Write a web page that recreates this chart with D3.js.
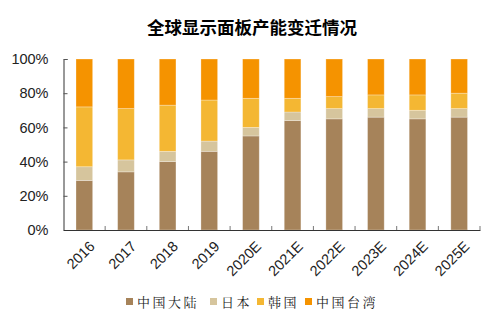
<!DOCTYPE html>
<html><head><meta charset="utf-8">
<script src="https://cdn.jsdelivr.net/npm/d3@7"></script>
<style>body{margin:0;background:#fff;}svg{display:block;}</style>
</head><body>
<script>
const categories = ["2016","2017","2018","2019","2020E","2021E","2022E","2023E","2024E","2025E"];
const seriesNames = ["中国大陆","日本","韩国","中国台湾"];
const china  = [29,34,40,46,55,64,65,66,65,66];
const japan  = [8,7,6,6,5,5,6,5,5,5];
const korea  = [35,30,27,24,17,8,7,8,9,9];
const taiwan = [28,29,27,24,23,23,22,21,21,20];
const yTicks = [0,20,40,60,80,100];
const title = "全球显示面板产能变迁情况";
const colors = ["#A6835A","#D6C59D","#F4B733","#F59300"];

const W=497,H=331;
const m={left:63.5,right:17,top:59,bottom:101};
const svg=d3.select("body").append("svg").attr("width",W).attr("height",H);
const x=d3.scaleBand().domain(categories).range([m.left,W-m.right]).paddingInner(0.6).paddingOuter(0.3);
const y=d3.scaleLinear().domain([0,100]).range([H-m.bottom,m.top]);

const rows=categories.map((c,i)=>({cat:c,"中国大陆":china[i],"日本":japan[i],"韩国":korea[i],"中国台湾":taiwan[i]}));
const stack=d3.stack().keys(seriesNames)(rows);

svg.append("g").selectAll("g").data(stack).join("g").attr("fill",(d,i)=>colors[i])
 .selectAll("rect").data(d=>d).join("rect")
 .attr("x",d=>x(d.data.cat)).attr("width",x.bandwidth())
 .attr("y",d=>y(d[1])).attr("height",d=>y(d[0])-y(d[1]))
 .attr("stroke","rgba(255,255,255,0.35)").attr("stroke-width",0.8);

// y axis
const ya=svg.append("g").attr("transform",`translate(${m.left},0)`)
 .call(d3.axisLeft(y).tickValues(yTicks).tickFormat(d=>d+"%").tickSizeInner(-4).tickSizeOuter(-4).tickPadding(15));
ya.select(".domain").attr("stroke","#333");
ya.selectAll(".tick line").attr("stroke","#555");
ya.selectAll("text").attr("font-family","Arial, 'Liberation Sans', sans-serif").attr("font-size",14.5).attr("fill","#222");

// x axis
const step=x.step();
const xa=svg.append("g").attr("transform",`translate(0,${H-m.bottom})`)
 .call(d3.axisBottom(x).tickSize(0).tickPadding(0));
xa.select(".domain").attr("stroke","#333").attr("stroke-width",1.2);
xa.selectAll(".tick text").remove();
categories.forEach((c,i)=>{
  const bx=x(c)+x.bandwidth()/2+step/2;
  xa.append("line").attr("x1",bx).attr("x2",bx).attr("y1",0).attr("y2",-4).attr("stroke","#777");
  xa.append("text").attr("transform",`translate(${x(c)+x.bandwidth()/2+4},10) rotate(-45)`)
   .attr("text-anchor","end").attr("dy","0.71em")
   .attr("font-family","Arial, 'Liberation Sans', sans-serif").attr("font-size",14.5).attr("fill","#222").text(c);
});

// title
svg.append("text").attr("x",252).attr("y",34).attr("text-anchor","middle")
 .attr("font-family","'Noto Sans CJK SC', sans-serif").attr("font-weight","bold").attr("font-size",17.5).attr("fill","#000").text(title);

// legend
const legX=[126,210,257,305];
const lg=svg.append("g");
seriesNames.forEach((n,i)=>{
  lg.append("rect").attr("x",legX[i]).attr("y",298).attr("width",7).attr("height",7).attr("fill",colors[i]);
  lg.append("text").attr("x",legX[i]+11).attr("y",307).attr("font-family","'Noto Serif CJK SC','Noto Sans CJK SC', serif")
   .attr("font-size",13).attr("letter-spacing",2.5).attr("fill","#222").text(n);
});
</script>
</body></html>
